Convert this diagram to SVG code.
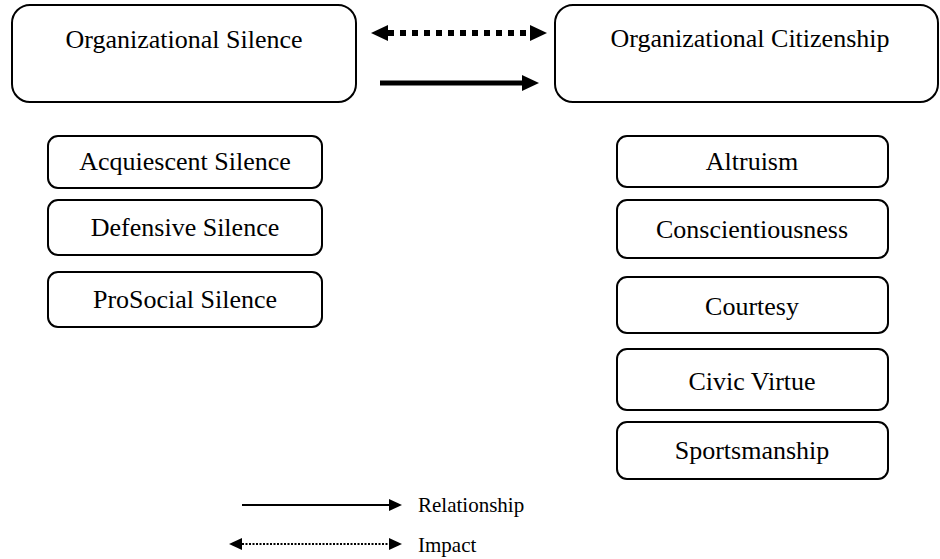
<svg xmlns="http://www.w3.org/2000/svg" width="940" height="559" viewBox="0 0 940 559">
<style>
.box{fill:#fff;stroke:#000;stroke-width:2}
.t{font-family:"Liberation Serif","Times New Roman",serif;font-size:26px;fill:#000;text-anchor:middle}
.lt{font-family:"Liberation Serif","Times New Roman",serif;font-size:21px;fill:#000}
.c{fill:none;stroke:#000}
</style>
<defs>
<marker id="hb" markerUnits="userSpaceOnUse" markerWidth="17" markerHeight="16" refX="0" refY="8" orient="auto-start-reverse"><path d="M0,0 L17,8 L0,16 z" fill="#000"/></marker>
<marker id="hs" markerUnits="userSpaceOnUse" markerWidth="13" markerHeight="12" refX="0" refY="6" orient="auto-start-reverse"><path d="M0,0 L13,6 L0,12 z" fill="#000"/></marker>
</defs>
<rect width="940" height="559" fill="#fff"/>
<g id="org-silence"><rect class="box" x="12" y="5" width="344" height="97" rx="18"/><text class="t" x="184" y="48">Organizational Silence</text></g>
<g id="org-citizenship"><rect class="box" x="555" y="5" width="383" height="97" rx="18"/><text class="t" x="750" y="47">Organizational Citizenship</text></g>
<g id="acquiescent"><rect class="box" x="48" y="136" width="274" height="52" rx="10"/><text class="t" x="185" y="170">Acquiescent Silence</text></g>
<g id="defensive"><rect class="box" x="48" y="200" width="274" height="55" rx="10"/><text class="t" x="185" y="236">Defensive Silence</text></g>
<g id="prosocial"><rect class="box" x="48" y="272" width="274" height="55" rx="10"/><text class="t" x="185" y="308">ProSocial Silence</text></g>
<g id="altruism"><rect class="box" x="617" y="136" width="271" height="51" rx="10"/><text class="t" x="752" y="170">Altruism</text></g>
<g id="conscientiousness"><rect class="box" x="617" y="200" width="271" height="58" rx="10"/><text class="t" x="752" y="238">Conscientiousness</text></g>
<g id="courtesy"><rect class="box" x="617" y="277" width="271" height="56" rx="10"/><text class="t" x="752" y="315">Courtesy</text></g>
<g id="civic-virtue"><rect class="box" x="617" y="349" width="271" height="61" rx="10"/><text class="t" x="752" y="390">Civic Virtue</text></g>
<g id="sportsmanship"><rect class="box" x="617" y="422" width="271" height="57" rx="10"/><text class="t" x="752" y="459">Sportsmanship</text></g>
<g id="connectors">
<line class="c" x1="388" y1="33" x2="530" y2="33" stroke-width="6" stroke-dasharray="6 6" marker-start="url(#hb)" marker-end="url(#hb)"/>
<line class="c" x1="380" y1="83" x2="522" y2="83" stroke-width="5" marker-end="url(#hb)"/>
</g>
<g id="legend">
<line class="c" x1="242" y1="505" x2="389" y2="505" stroke-width="2" marker-end="url(#hs)"/>
<text class="lt" x="418" y="512">Relationship</text>
<line class="c" x1="242" y1="544" x2="389" y2="544" stroke-width="2" stroke-dasharray="2 1.5" marker-start="url(#hs)" marker-end="url(#hs)"/>
<text class="lt" x="418" y="552">Impact</text>
</g>
</svg>
